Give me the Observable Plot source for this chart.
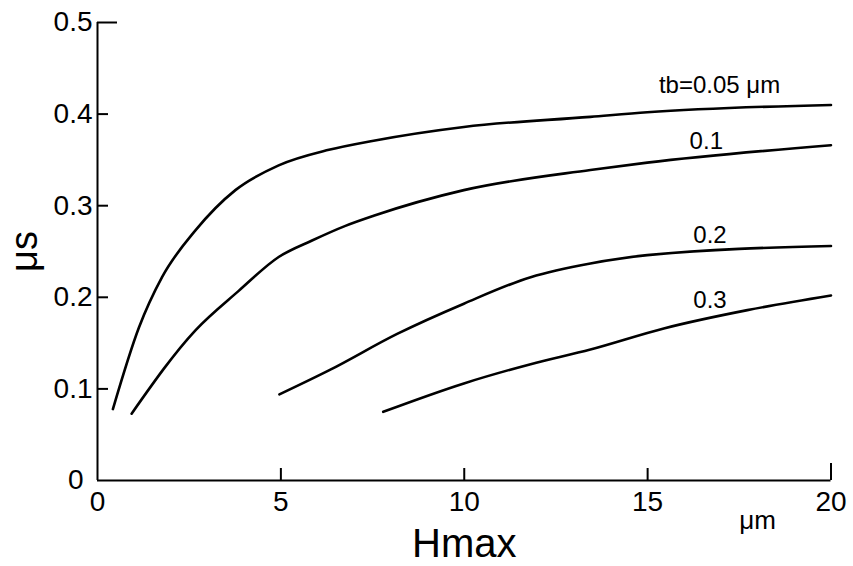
<!DOCTYPE html>
<html>
<head>
<meta charset="utf-8">
<script src="https://cdn.jsdelivr.net/npm/d3@7"></script>
<script src="https://cdn.jsdelivr.net/npm/@observablehq/plot@0.6"></script>
<style>
  html, body { margin: 0; padding: 0; background: #fff; }
  svg { display: block; }
</style>
</head>
<body>
<div id="chart"></div>
<script>
// Curves: Hmax (µm) vs µs for several tb
const tb005_x = [0.42, 1.13, 1.76, 2.67, 3.76, 4.94, 6.31, 7.53, 9.99, 13.44, 14.99, 20];
const tb005_y = [0.078, 0.167, 0.222, 0.273, 0.317, 0.344, 0.361, 0.371, 0.386, 0.397, 0.402, 0.410];
const tb01_x = [0.93, 2.67, 3.85, 4.94, 5.85, 6.76, 7.53, 9.99, 13.44, 14.99, 20];
const tb01_y = [0.073, 0.164, 0.207, 0.244, 0.262, 0.278, 0.289, 0.317, 0.339, 0.347, 0.366];
const tb02_x = [4.96, 6.35, 8.17, 9.99, 11.81, 13.44, 14.99, 20];
const tb02_y = [0.094, 0.121, 0.160, 0.193, 0.222, 0.237, 0.246, 0.256];
const tb03_x = [7.79, 9.99, 11.81, 13.44, 15.44, 17.72, 20];
const tb03_y = [0.075, 0.106, 0.127, 0.143, 0.166, 0.186, 0.202];

const seriesNames = ["0.05", "0.1", "0.2", "0.3"];
const labelTexts = ["tb=0.05 μm", "0.1", "0.2", "0.3"];
const labelX = [16.96, 16.6, 16.7, 16.7];
const labelY = [0.4225, 0.362, 0.259, 0.188];

const xTicks = [0, 5, 10, 15, 20];
const yTicks = [0, 0.1, 0.2, 0.3, 0.4, 0.5];

const xs = [tb005_x, tb01_x, tb02_x, tb03_x];
const ys = [tb005_y, tb01_y, tb02_y, tb03_y];
const data = seriesNames.flatMap((s, i) => xs[i].map((x, j) => ({series: s, x, y: ys[i][j]})));
const labels = labelTexts.map((t, i) => ({t, x: labelX[i], y: labelY[i]}));

const font = "'Liberation Sans', 'DejaVu Sans', sans-serif";

const chart = Plot.plot({
  width: 853,
  height: 566,
  marginLeft: 97,
  marginRight: 22.5,
  marginTop: 22,
  marginBottom: 86,
  style: {fontFamily: font, background: "#fff", color: "#000"},
  x: {domain: [0, 20]},
  y: {domain: [0, 0.5]},
  marks: [
    // axis lines
    Plot.ruleX([0], {y1: 0, y2: 0.5, stroke: "#000", strokeWidth: 2}),
    Plot.ruleY([0], {x1: 0, x2: 20, stroke: "#000", strokeWidth: 2}),
    // inward ticks
    Plot.axisY({ticks: [0.1, 0.2, 0.3, 0.4], tickSize: -11, strokeWidth: 2, text: null, label: null}),
    Plot.axisY({ticks: [0.5], tickSize: -20, strokeWidth: 2, text: null, label: null}),
    Plot.axisX({ticks: [5, 10, 15], tickSize: -12, strokeWidth: 2, text: null, label: null}),
    Plot.axisX({ticks: [20], tickSize: -17, strokeWidth: 2, text: null, label: null}),
    // tick labels
    Plot.axisY({ticks: yTicks.slice(1), tickSize: 0, tickPadding: 5, tickFormat: d => d.toFixed(1), fontSize: 28, label: null}),
    Plot.axisY({ticks: [0], tickSize: 0, tickPadding: 14, tickFormat: d => "0", fontSize: 28, label: null}),
    Plot.axisX({ticks: xTicks, tickSize: 0, tickPadding: 11, tickFormat: d => String(d), fontSize: 28, label: null}),
    // curves
    Plot.line(data, {x: "x", y: "y", z: "series", curve: "monotone-x", stroke: "#000", strokeWidth: 2.6}),
    // curve labels
    Plot.text(labels, {x: "x", y: "y", text: "t", textAnchor: "middle", lineAnchor: "bottom", fontSize: 24, fill: "#000"}),
    // axis titles
    Plot.text(["Hmax"], {x: 10, frameAnchor: "bottom", dy: 76, text: d => d, fontSize: 40, lineAnchor: "bottom", fill: "#000"}),
    Plot.text(["μm"], {x: 18, frameAnchor: "bottom", dy: 48, text: d => d, fontSize: 26, lineAnchor: "bottom", fill: "#000"}),
    Plot.text(["μs"], {y: 0.25, frameAnchor: "left", dx: -73, text: d => d, fontSize: 38, rotate: -90, textAnchor: "middle", lineAnchor: "middle", fill: "#000"})
  ]
});
document.getElementById("chart").appendChild(chart);
</script>
</body>
</html>
